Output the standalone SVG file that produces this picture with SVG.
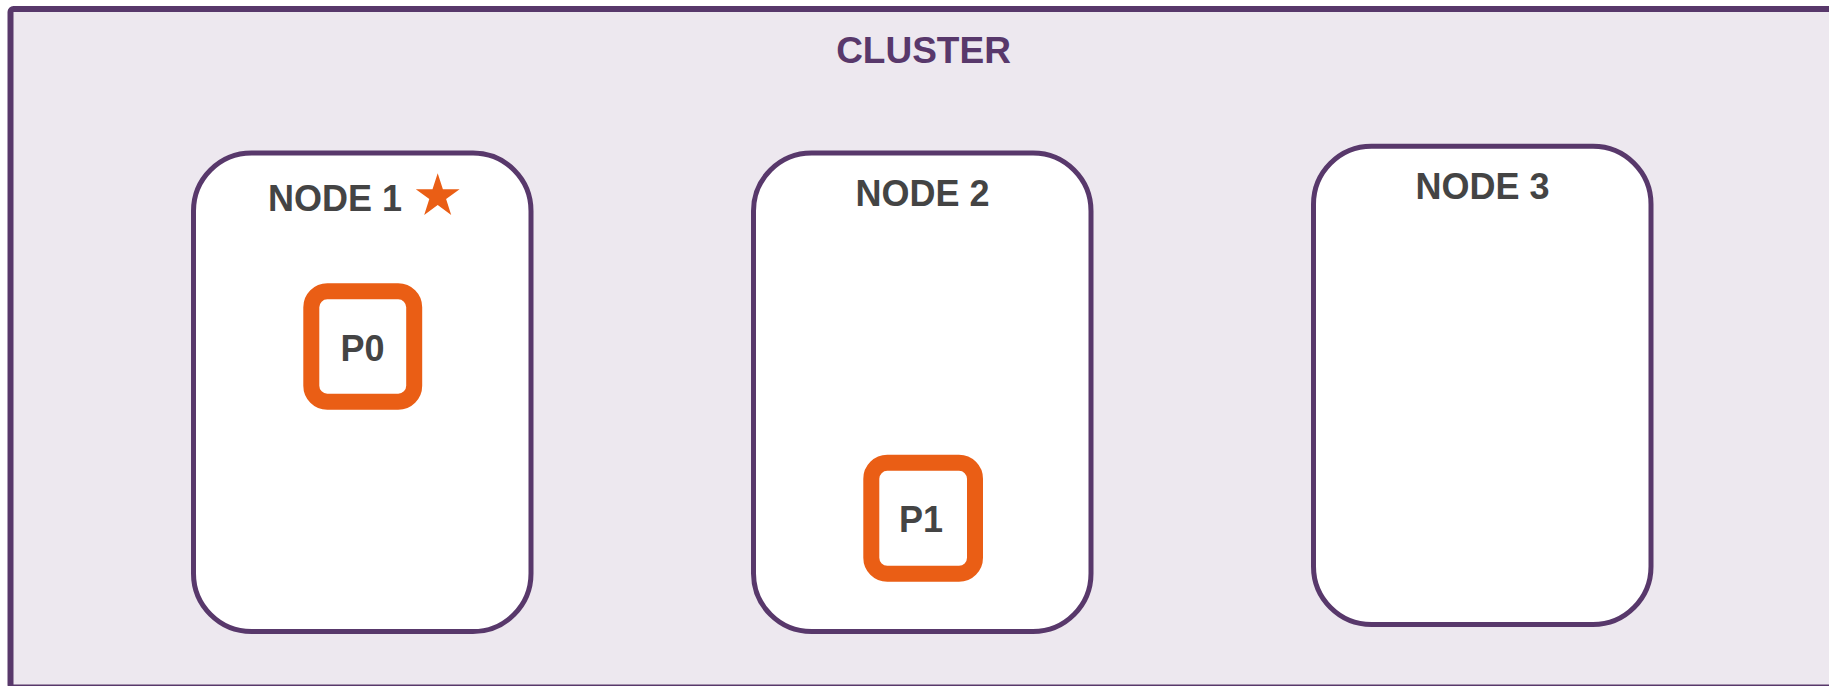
<svg xmlns="http://www.w3.org/2000/svg" width="1829" height="686" viewBox="0 0 1829 686">
  <style>
    .cluster { fill: #ede8ef; stroke: #58386b; stroke-width: 6; }
    .cluster-label { font-family: "Liberation Sans", Arial, sans-serif; font-weight: bold; font-size: 37px; fill: #58386b; text-anchor: middle; }
    .node { fill: #ffffff; stroke: #58386b; stroke-width: 5; }
    .label { font-family: "Liberation Sans", Arial, sans-serif; font-weight: bold; font-size: 36px; fill: #444444; text-anchor: middle; }
    .part { fill: #ffffff; stroke: #ea5e15; stroke-width: 16; }
    .star { fill: #ea5e15; }
  </style>

  <!-- outer cluster frame -->
  <g id="cluster">
    <rect class="cluster" x="10.5" y="9" width="1840" height="678.5" rx="3"/>
    <text class="cluster-label" x="923.5" y="63">CLUSTER</text>
  </g>

  <g id="node1">
    <rect class="node" x="193.5" y="153" width="337.5" height="478.5" rx="58"/>
    <text class="label" x="335" y="211">NODE 1</text>
    <polygon class="star" points="437.7,173.3 442.9,189.2 459.6,189.2 446.1,199 451.2,214.9 437.7,205.1 424.2,214.9 429.3,199 415.8,189.2 432.5,189.2"/>
  </g>

  <g id="node2">
    <rect class="node" x="753.5" y="153" width="337.5" height="478.5" rx="58"/>
    <text class="label" x="922.5" y="205.5">NODE 2</text>
  </g>

  <g id="node3">
    <rect class="node" x="1313.5" y="146.3" width="337.5" height="478.2" rx="58"/>
    <text class="label" x="1482.5" y="198.5">NODE 3</text>
  </g>

  <g id="p0">
    <rect class="part" x="311.3" y="291.3" width="102.9" height="110.4" rx="16"/>
    <text class="label" x="362.5" y="361">P0</text>
  </g>

  <g id="p1">
    <rect class="part" x="871.3" y="462.8" width="103.7" height="111" rx="16"/>
    <text class="label" x="921" y="532">P1</text>
  </g>

  <g id="connectors"/>
</svg>
